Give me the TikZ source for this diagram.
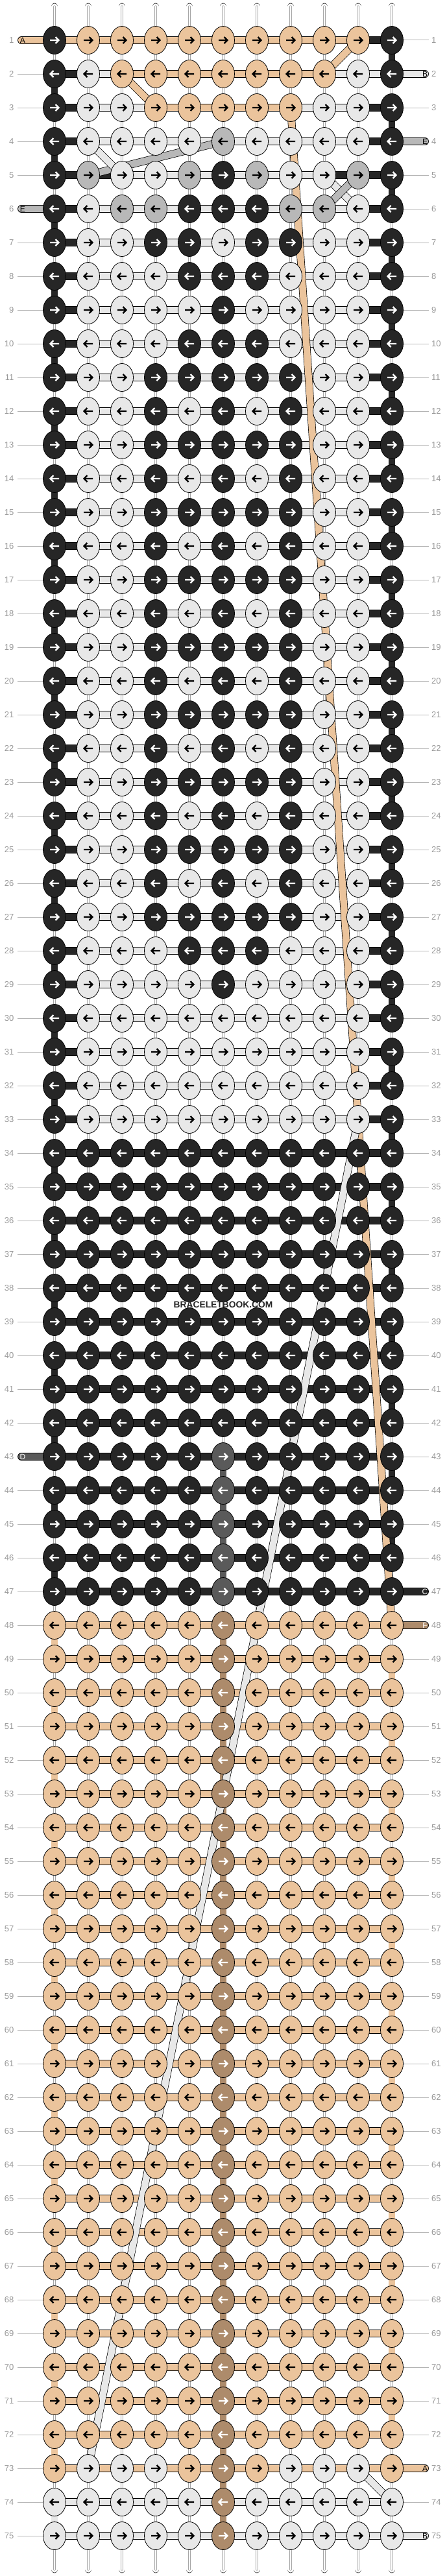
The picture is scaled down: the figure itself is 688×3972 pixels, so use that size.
\documentclass[tikz,border=0pt]{standalone}
\usepackage{fontspec}
\setmainfont{Liberation Sans}
\usetikzlibrary{shapes.geometric}

\definecolor{cK}{HTML}{262626}
\definecolor{cL}{HTML}{E8E8E8}
\definecolor{cT}{HTML}{EBC49C}
\definecolor{cN}{HTML}{AD8B6B}
\definecolor{cG}{HTML}{B8B8B8}
\definecolor{cD}{HTML}{5A5A5A}
\colorlet{aK}{white}
\colorlet{aL}{black}
\colorlet{aT}{black}
\colorlet{aN}{white}
\colorlet{aG}{black}
\colorlet{aD}{white}
\definecolor{rulegray}{HTML}{B4B4B4}
\definecolor{numgray}{HTML}{999999}

% knot colours of a row
\newcommand\knarrow{K,L,L,L,K,K,K,L,L,L,K}
\newcommand\kdot{K,L,L,L,L,K,L,L,L,L,K}
\newcommand\kwide{K,L,L,K,K,K,K,K,L,L,K}
\newcommand\kbars{K,L,L,K,L,K,L,K,L,L,K}
\newcommand\kplain{K,L,L,L,L,L,L,L,L,L,K}
\newcommand\kblack{K,K,K,K,K,K,K,K,K,K,K}
\newcommand\kgrey{K,K,K,K,K,D,K,K,K,K,K}
\newcommand\ktan{T,T,T,T,T,N,T,T,T,T,T}
\newcommand\klight{L,L,L,L,L,N,L,L,L,L,L}
% thread colours between the knots
\newcommand\segedge{K,L,L,L,L,L,L,L,L,K}
\newcommand\segK{K,K,K,K,K,K,K,K,K,K}
\newcommand\segT{T,T,T,T,T,T,T,T,T,T}
\newcommand\segL{L,L,L,L,L,L,L,L,L,L}

\def\knotlist{1/{K,T,T,T,T,T,T,T,T,T,K}/{T,T,T,T,T,T,T,T,T,K},
2/{K,L,T,T,T,T,T,T,T,L,K}/{K,L,T,T,T,T,T,T,L,L},
3/{K,L,L,T,T,T,T,T,L,L,K}/{K,L,L,T,T,T,T,L,L,K},
4/{K,L,L,L,L,G,L,L,L,L,K}/\segedge,
5/{K,G,L,L,G,K,G,L,L,G,K}/{K,K,L,L,L,L,L,L,K,K},
6/{K,L,G,G,K,K,K,G,G,L,K}/\segedge,
7/{K,L,L,K,K,L,K,K,L,L,K}/\segedge,
8/\knarrow/\segedge, 9/\kdot/\segedge, 10/\knarrow/\segedge,
11/\kwide/\segedge, 12/\kbars/\segedge, 13/\kwide/\segedge, 14/\kbars/\segedge,
15/\kwide/\segedge, 16/\kbars/\segedge, 17/\kwide/\segedge, 18/\kbars/\segedge,
19/\kwide/\segedge, 20/\kbars/\segedge, 21/\kwide/\segedge, 22/\kbars/\segedge,
23/\kwide/\segedge, 24/\kbars/\segedge, 25/\kwide/\segedge, 26/\kbars/\segedge,
27/\kwide/\segedge, 28/\knarrow/\segedge, 29/\kdot/\segedge,
30/\kplain/\segedge, 31/\kplain/\segedge, 32/\kplain/\segedge, 33/\kplain/\segedge,
34/\kblack/\segK, 35/\kblack/\segK, 36/\kblack/\segK, 37/\kblack/\segK,
38/\kblack/\segK, 39/\kblack/\segK, 40/\kblack/\segK, 41/\kblack/\segK,
42/\kblack/\segK, 43/\kgrey/\segK, 44/\kgrey/\segK, 45/\kgrey/\segK,
46/\kgrey/\segK, 47/\kgrey/\segK,
48/\ktan/\segT, 49/\ktan/\segT, 50/\ktan/\segT, 51/\ktan/\segT, 52/\ktan/\segT,
53/\ktan/\segT, 54/\ktan/\segT, 55/\ktan/\segT, 56/\ktan/\segT, 57/\ktan/\segT,
58/\ktan/\segT, 59/\ktan/\segT, 60/\ktan/\segT, 61/\ktan/\segT, 62/\ktan/\segT,
63/\ktan/\segT, 64/\ktan/\segT, 65/\ktan/\segT, 66/\ktan/\segT, 67/\ktan/\segT,
68/\ktan/\segT, 69/\ktan/\segT, 70/\ktan/\segT, 71/\ktan/\segT, 72/\ktan/\segT,
73/{T,L,L,L,T,N,T,L,L,L,T}/\segT,
74/\klight/\segL, 75/\klight/\segL}

\tikzset{
  knot/.style={ellipse, draw=black, line width=.8pt, minimum width=35pt,
    minimum height=43pt, inner sep=0pt},
  thread/.style={draw=black, line width=.7pt, double distance=10.5pt},
  turn/.style={draw=black, line width=.7pt, double distance=9.3pt},
  warp/.style={draw=black, line width=.7pt, double=white, double distance=9.3pt,
    postaction={draw=black!35, line width=.45pt, double=white, double distance=2.4pt}},
  arr/.style={line width=2.3pt, line join=miter},
  rowline/.style={draw=rulegray, line width=1pt},
  rownum/.style={text=numgray, font=\fontsize{13}{13}\selectfont, inner sep=0pt},
  tag/.style={font=\fontsize{12}{12}\selectfont, inner sep=0pt},
}

\begin{document}
\begin{tikzpicture}[x=1pt,y=-1pt]
\useasboundingbox (0,0) rectangle (688,3972);
\foreach \r in {1,...,75}
  \foreach \c in {1,...,11}
    \coordinate (p-\r-\c) at ({84+52*(\c-1)},{62+52*(\r-1)});

% row numbers and guide lines
\foreach \r in {1,...,75} {
  \coordinate (le-\r) at (27,{62+52*(\r-1)});
  \coordinate (re-\r) at (661,{62+52*(\r-1)});
  \draw[rowline] (le-\r) -- (p-\r-1);
  \draw[rowline] (p-\r-11) -- (re-\r);
  \node[rownum, anchor=east] (nl-\r) at (21.5,{62+52*(\r-1)}) {\r};
  \node[rownum, anchor=west] (nr-\r) at (665,{62+52*(\r-1)}) {\r};
}

% warp threads
\foreach \c in {1,...,11} {
  \coordinate (wt-\c) at ({84+52*(\c-1)},10);
  \coordinate (wb-\c) at ({84+52*(\c-1)},3962);
  \draw[warp, line cap=round] (wt-\c) -- (p-1-\c);
  \draw[warp, line cap=round] (p-75-\c) -- (wb-\c);
}
\foreach \r in {1,...,74} {
  \pgfmathtruncatemacro\rn{\r+1}
  \foreach \c in {1,...,11}
    \draw[warp] (p-\r-\c) -- (p-\rn-\c);
}

% turns at the edges, middle column
\foreach \c/\k/\rows in {1/K/{2,4,...,46}, 1/T/{48,50,...,72}, 1/L/{74},
    11/K/{1,3,...,45}, 11/T/{49,51,...,71}, 6/D/{43,...,46}, 6/N/{48,...,74}}
  \foreach \r in \rows {
    \pgfmathtruncatemacro\rn{\r+1}
    \draw[turn, double=c\k] (p-\r-\c) -- (p-\rn-\c);
  }

% working threads along the rows
\foreach \r/\nd/\sg in \knotlist {
  \edef\sgx{\sg}
  \foreach \k [count=\c] in \sgx {
    \pgfmathtruncatemacro\cn{\c+1}
    \draw[thread, double=c\k] (p-\r-\c) -- (p-\r-\cn);
  }
}

% threads leaving at the sides
\foreach \r/\c/\e/\k in {1/1/33/T, 6/1/33/G, 43/1/33/D, 2/11/655/L, 4/11/655/G,
    47/11/655/K, 48/11/655/N, 73/11/655/T, 75/11/655/L} {
  \coordinate (s-\r) at (\e,{62+52*(\r-1)});
  \draw[thread, double=c\k, line cap=round] (p-\r-\c) -- (s-\r);
}

% carried threads
\foreach \a/\b/\k in {1-10/2-9/T, 2-3/3-4/T, 3-8/48-11/T, 4-6/5-2/G, 4-2/5-3/L,
    5-9/6-10/L, 5-10/6-9/G, 33-10/73-2/L, 73-10/74-11/L}
  \draw[thread, double=c\k] (p-\a) -- (p-\b);

% knots
\foreach \r/\nd/\sg in \knotlist {
  \edef\ndx{\nd}
  \ifodd\r \def\dir{1}\else\def\dir{-1}\fi
  \foreach \k [count=\c] in \ndx {
    \node[knot, fill=c\k] (n-\r-\c) at (p-\r-\c) {};
    \draw[arr, draw=a\k, shift={(n-\r-\c.center)}, xscale=\dir]
      (-7,0) -- (6,0) (1.5,-5) -- (6.5,0) -- (1.5,5);
  }
}

% thread letters
\foreach \r/\x/\t/\tc in {1/35/A/black, 6/35/E/black, 43/35/D/white, 2/655/B/black,
    4/655/E/black, 47/655/C/white, 48/655/F/white, 73/655/A/black, 75/655/B/black}
  \node[tag, text=\tc] (tag-\r) at (\x,{62+52*(\r-1)}) {\t};

\node[font=\bfseries\fontsize{13.8}{14}\selectfont, text=cK] (mark) at (344,2012) {BRACELETBOOK.COM};
\end{tikzpicture}
\end{document}
